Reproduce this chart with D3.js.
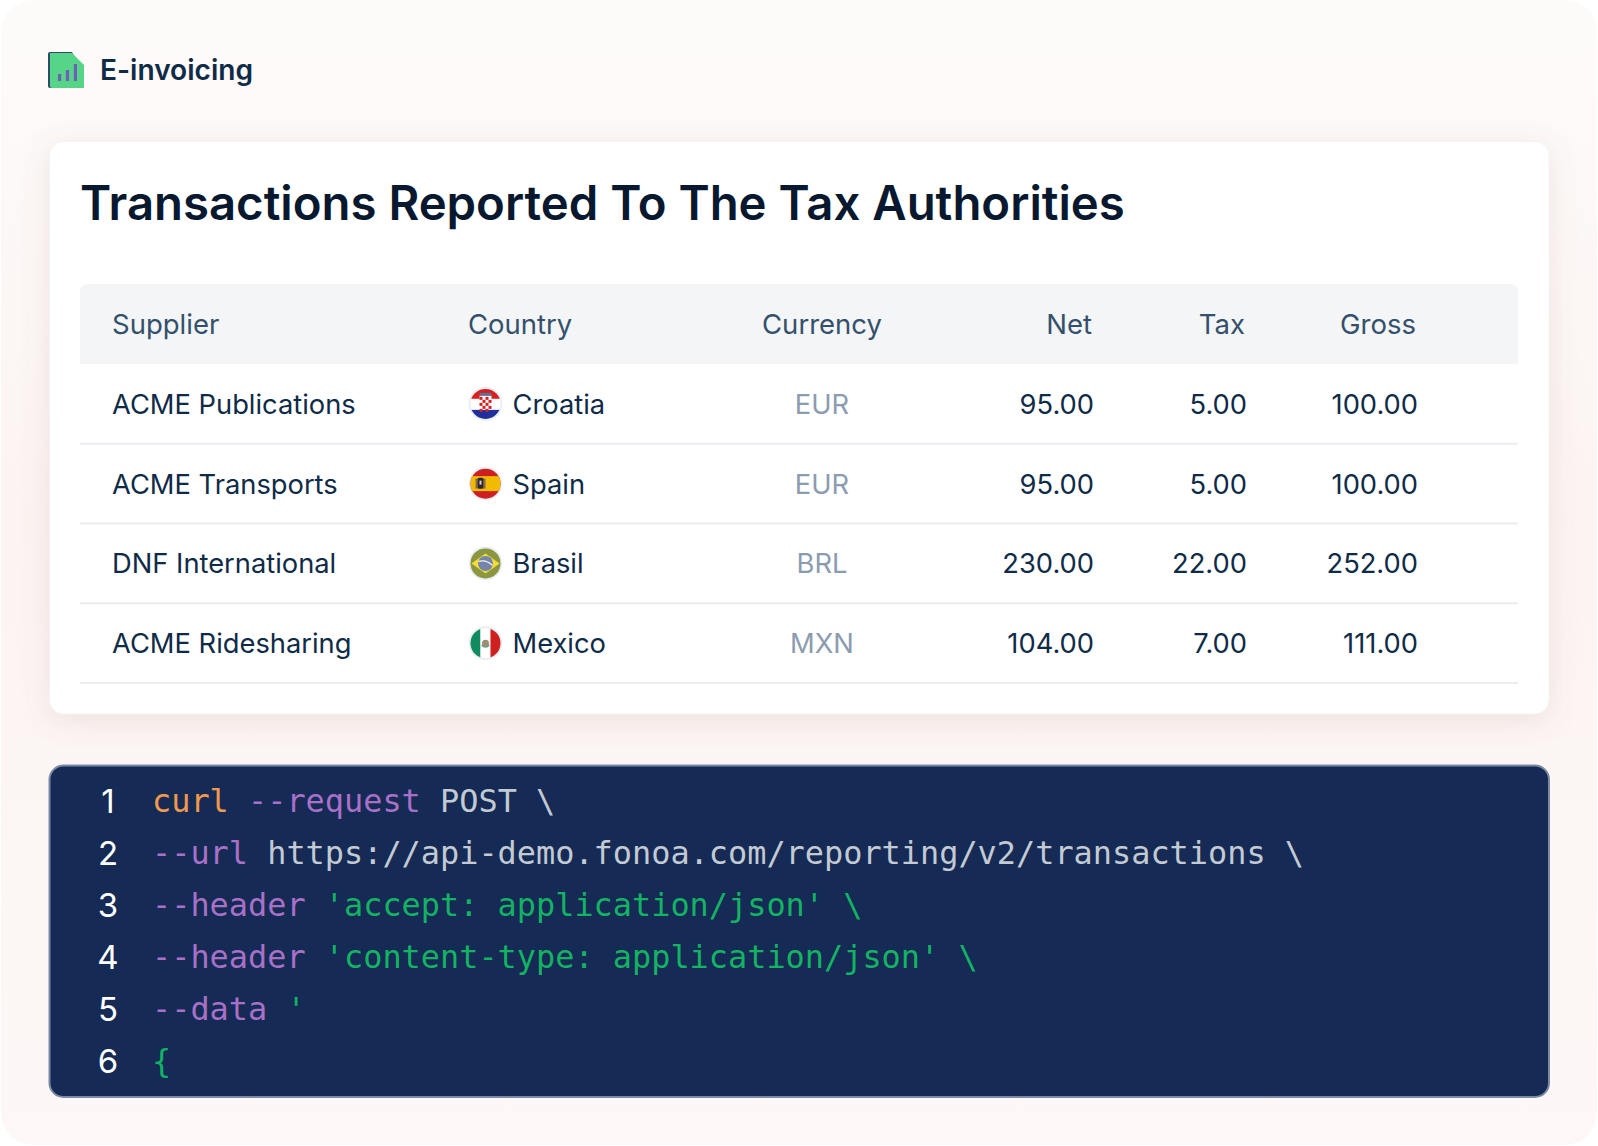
<!DOCTYPE html>
<html>
<head>
<meta charset="utf-8">
<script src="https://cdn.jsdelivr.net/npm/d3@7"></script>
<style>
  html, body { margin: 0; padding: 0; background: #fff; }
  svg { display: block; }
</style>
</head>
<body>
<div id="chart"></div>
<script>
// Table data
const headers = ['Supplier', 'Country', 'Currency', 'Net', 'Tax', 'Gross'];
const suppliers = ['ACME Publications', 'ACME Transports', 'DNF International', 'ACME Ridesharing'];
const countries = ['Croatia', 'Spain', 'Brasil', 'Mexico'];
const currencies = ['EUR', 'EUR', 'BRL', 'MXN'];
const netValues = [95, 95, 230, 104];
const taxValues = [5, 5, 22, 7];
const grossValues = [100, 100, 252, 111];

// Logo bars
const logoBars = [7, 11, 17];

// Code block
const codeLines = [
  [['curl', 'orange'], [' ', 'plain'], ['--request', 'purple'], [' POST \\', 'plain']],
  [['--url', 'purple'], [' https://api-demo.fonoa.com/reporting/v2/transactions \\', 'plain']],
  [['--header', 'purple'], [" 'accept: application/json'", 'green'], [' \\', 'green']],
  [['--header', 'purple'], [" 'content-type: application/json'", 'green'], [' \\', 'green']],
  [['--data', 'purple'], [" '", 'green']],
  [['{', 'green']]
];
const codeColors = { orange: '#f0984f', purple: '#a970c8', plain: '#c3cad3', green: '#14b263' };

const width = 1598, height = 1146;
const bodyFont = 'Inter, "Noto Sans", sans-serif';
const monoFont = '"DejaVu Sans Mono", monospace';
const rowText = '#0f2b47';

const svg = d3.select('#chart').append('svg')
  .attr('width', width)
  .attr('height', height);

const defs = svg.append('defs');

const bg = defs.append('linearGradient').attr('id', 'bg')
  .attr('x1', 0).attr('y1', 0).attr('x2', 0).attr('y2', 1);
bg.append('stop').attr('offset', '0%').attr('stop-color', '#fdfbfa');
bg.append('stop').attr('offset', '45%').attr('stop-color', '#fcf4f2');
bg.append('stop').attr('offset', '100%').attr('stop-color', '#fdf8f7');

const shadow = defs.append('filter').attr('id', 'cardShadow')
  .attr('x', '-10%').attr('y', '-15%').attr('width', '120%').attr('height', '130%');
shadow.append('feDropShadow')
  .attr('dx', 0).attr('dy', 6).attr('stdDeviation', 14)
  .attr('flood-color', '#a8746a').attr('flood-opacity', 0.16);

svg.append('rect')
  .attr('x', 1).attr('y', 0)
  .attr('width', width - 2).attr('height', height - 1)
  .attr('rx', 32)
  .attr('fill', 'url(#bg)');

// Logo
const logo = svg.append('g');
logo.append('path')
  .attr('d', 'M50,52 H72 L74,56 V88 H50 Q48,88 48,86 V54 Q48,52 50,52 Z')
  .attr('fill', '#2f4a6b');
logo.append('path')
  .attr('d', 'M50,53 H72 L84,65 V88 H52 Q50,88 50,86 Z')
  .attr('fill', '#56d488');
const logoY = d3.scaleLinear().domain([0, 17]).range([81, 64]);
const logoX = d3.scaleBand().domain(d3.range(logoBars.length)).range([58, 77]).paddingInner(0.6);
logo.selectAll('rect.bar').data(logoBars).join('rect')
  .attr('class', 'bar')
  .attr('x', (d, i) => logoX(i))
  .attr('y', d => logoY(d))
  .attr('width', logoX.bandwidth())
  .attr('height', d => logoY(0) - logoY(d))
  .attr('fill', '#6f5fb8');

svg.append('text')
  .attr('x', 100).attr('y', 80)
  .attr('font-family', bodyFont).attr('font-size', 28.1).attr('font-weight', 600)
  .attr('fill', '#0f2b47')
  .text('E-invoicing');

// Card
svg.append('rect')
  .attr('x', 49.5).attr('y', 141.5)
  .attr('width', 1499.5).attr('height', 572.5)
  .attr('rx', 14)
  .attr('fill', '#fff').attr('stroke', '#f1f3f5')
  .attr('filter', 'url(#cardShadow)');

svg.append('text')
  .attr('x', 80).attr('y', 220)
  .attr('font-family', bodyFont).attr('font-size', 47.3).attr('font-weight', 600)
  .attr('fill', '#08182f')
  .text('Transactions Reported To The Tax Authorities');

// Table
const tableX = [80, 1518];
const headerTop = 284, headerBottom = 364;
const rowY = d3.scaleBand().domain(suppliers).range([headerBottom, 683]);

svg.append('path')
  .attr('d', `M${tableX[0]},${headerBottom} V${headerTop + 8} Q${tableX[0]},${headerTop} ${tableX[0] + 8},${headerTop} H${tableX[1] - 8} Q${tableX[1]},${headerTop} ${tableX[1]},${headerTop + 8} V${headerBottom} Z`)
  .attr('fill', '#f3f5f7');

const columns = [
  { x: 112, anchor: 'start' },
  { x: 468, anchor: 'start' },
  { x: 822, anchor: 'middle' },
  { x: 1092, anchor: 'end' },
  { x: 1245, anchor: 'end' },
  { x: 1416, anchor: 'end' }
];

svg.selectAll('text.head').data(headers).join('text')
  .attr('class', 'head')
  .attr('x', (d, i) => columns[i].x)
  .attr('y', (headerTop + headerBottom) / 2 + 10)
  .attr('text-anchor', (d, i) => columns[i].anchor)
  .attr('font-family', bodyFont).attr('font-size', 27.5)
  .attr('fill', '#34506b')
  .text(d => d);

const fmt = d3.format('.2f');
const rows = svg.selectAll('g.row').data(suppliers).join('g')
  .attr('class', 'row')
  .attr('transform', d => `translate(0,${rowY(d)})`);

rows.append('line')
  .attr('x1', tableX[0]).attr('x2', tableX[1])
  .attr('y1', rowY.bandwidth()).attr('y2', rowY.bandwidth())
  .attr('stroke', '#e9ecf0').attr('stroke-width', 2);

const cell = (sel, x, anchor, color, get) => sel.append('text')
  .attr('x', x)
  .attr('y', rowY.bandwidth() / 2 + 10)
  .attr('text-anchor', anchor)
  .attr('font-family', bodyFont).attr('font-size', 27.3)
  .attr('fill', color)
  .text(get);

cell(rows, 112, 'start', rowText, d => d);
cell(rows, 512.5, 'start', rowText, (d, i) => countries[i]);
cell(rows, 822, 'middle', '#8c9cb0', (d, i) => currencies[i]);
cell(rows, 1094, 'end', rowText, (d, i) => fmt(netValues[i]));
cell(rows, 1247, 'end', rowText, (d, i) => fmt(taxValues[i]));
cell(rows, 1418, 'end', rowText, (d, i) => fmt(grossValues[i]));

// Flags
const flagR = 15;
const flagG = rows.append('g')
  .attr('transform', `translate(485.5,${rowY.bandwidth() / 2})`);

flagG.append('circle').attr('r', flagR + 1.8).attr('fill', '#e9ecf1');
flagG.each(function (d, i) {
  defs.append('clipPath').attr('id', 'flag' + i)
    .append('circle').attr('r', flagR);
});
const flagBody = flagG.append('g').attr('clip-path', (d, i) => `url(#flag${i})`);

const drawFlag = {
  Croatia(g) {
    g.append('rect').attr('x', -16).attr('y', -16).attr('width', 32).attr('height', 11).attr('fill', '#d8211f');
    g.append('rect').attr('x', -16).attr('y', -5).attr('width', 32).attr('height', 11).attr('fill', '#fff');
    g.append('rect').attr('x', -16).attr('y', 6).attr('width', 32).attr('height', 10).attr('fill', '#1f2f9b');
    g.append('rect').attr('x', -6).attr('y', -11).attr('width', 12).attr('height', 3).attr('fill', '#5d6f9c');
    g.append('rect').attr('x', -6).attr('y', -8).attr('width', 12).attr('height', 14).attr('fill', '#fff');
    d3.range(5).forEach(r => d3.range(4).forEach(c => {
      if ((r + c) % 2 === 0) {
        g.append('rect').attr('x', -6 + c * 3).attr('y', -7 + r * 3).attr('width', 3).attr('height', 3).attr('fill', '#d8211f');
      }
    }));
  },
  Spain(g) {
    g.append('rect').attr('x', -16).attr('y', -16).attr('width', 32).attr('height', 32).attr('fill', '#cd2020');
    g.append('rect').attr('x', -16).attr('y', -7.5).attr('width', 32).attr('height', 15).attr('fill', '#f0bb00');
    g.append('rect').attr('x', -10).attr('y', -5).attr('width', 2).attr('height', 10).attr('fill', '#8a6a50');
    g.append('rect').attr('x', -2).attr('y', -5).attr('width', 2).attr('height', 10).attr('fill', '#8a6a50');
    g.append('rect').attr('x', -8).attr('y', -6).attr('width', 6).attr('height', 11).attr('rx', 1.5).attr('fill', '#2e2730');
    g.append('rect').attr('x', -6).attr('y', -3).attr('width', 2).attr('height', 4).attr('fill', '#d8d0c8');
  },
  Brasil(g) {
    g.append('rect').attr('x', -16).attr('y', -16).attr('width', 32).attr('height', 32).attr('fill', '#8a9640');
    g.append('path').attr('d', 'M-14,0 L0,-10 L14,0 L0,10 Z').attr('fill', '#f6dc36');
    g.append('circle').attr('r', 7.5).attr('fill', '#7484ab');
    g.append('path').attr('d', 'M-7,-2 Q1,-4 7,2').attr('fill', 'none').attr('stroke', '#f3f3ee').attr('stroke-width', 1.4);
  },
  Mexico(g) {
    g.append('rect').attr('x', -16).attr('y', -16).attr('width', 11).attr('height', 32).attr('fill', '#108a5f');
    g.append('rect').attr('x', -5).attr('y', -16).attr('width', 10).attr('height', 32).attr('fill', '#fff');
    g.append('rect').attr('x', 5).attr('y', -16).attr('width', 11).attr('height', 32).attr('fill', '#cf2020');
    g.append('circle').attr('r', 3.5).attr('fill', '#9a8f70');
    g.append('path').attr('d', 'M-4,2 Q0,6 4,2').attr('fill', 'none').attr('stroke', '#5f9a80').attr('stroke-width', 1.2);
  }
};
flagBody.each(function (d, i) { drawFlag[countries[i]](d3.select(this)); });

// Code block
svg.append('rect')
  .attr('x', 49.5).attr('y', 765.5)
  .attr('width', 1499.5).attr('height', 331.5)
  .attr('rx', 14)
  .attr('fill', '#152a54').attr('stroke', '#7c8aa3').attr('stroke-width', 2);

const lineY = d3.scalePoint().domain(d3.range(codeLines.length)).range([813, 1073]);

svg.selectAll('text.num').data(codeLines).join('text')
  .attr('class', 'num')
  .attr('x', 108)
  .attr('y', (d, i) => lineY(i))
  .attr('text-anchor', 'middle')
  .attr('font-family', bodyFont).attr('font-size', 33)
  .attr('fill', '#fff')
  .text((d, i) => i + 1);

svg.selectAll('text.code').data(codeLines).join('text')
  .attr('class', 'code')
  .attr('x', 152)
  .attr('y', (d, i) => lineY(i) - 1)
  .attr('font-family', monoFont).attr('font-size', 31.9)
  .style('white-space', 'pre')
  .selectAll('tspan').data(d => d).join('tspan')
  .attr('fill', d => codeColors[d[1]])
  .text(d => d[0]);
</script>
</body>
</html>
